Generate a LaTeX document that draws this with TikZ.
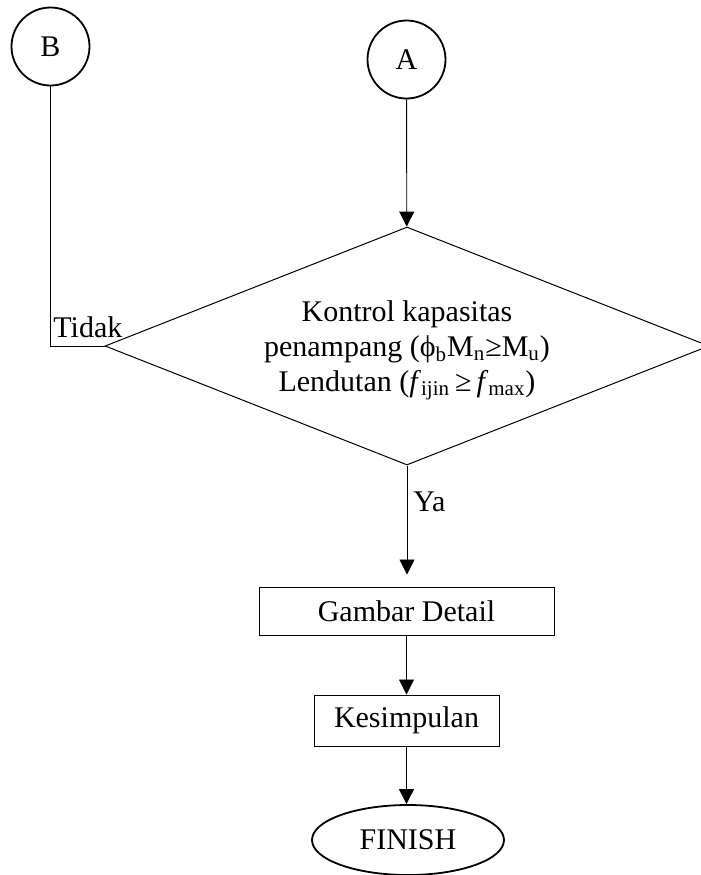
\documentclass[tikz,border=0pt]{standalone}
\usepackage{fontspec}
\setmainfont{Liberation Serif}
\usetikzlibrary{shapes.geometric,arrows.meta}

\begin{document}
\begin{tikzpicture}[x=0.5pt,y=-0.5pt,
	font=\fontsize{15}{17.5}\selectfont,
	konektor/.style={circle,draw,line width=0.9pt,minimum size=39pt,inner sep=0pt},
	proses/.style={rectangle,draw,line width=0.5pt,minimum height=24pt,inner sep=0pt},
	panah/.style={line width=0.45pt,-{Triangle[width=7.5pt,length=7.5pt]}},
	garis/.style={line width=0.45pt}]
	\useasboundingbox (0,0) rectangle (701,875);

	% penghubung
	\node[konektor] (B) at (50.5,46.5) {B};
	\node[konektor] (A) at (406.5,59.5) {A};

	% kontrol
	\node[diamond,draw,line width=0.5pt,aspect=2.54,inner sep=0pt,
		minimum width=302pt,minimum height=119pt,align=center,text depth=-4pt] (cek) at (407,346)
		{Kontrol kapasitas\\
		penampang (ϕ\textsubscript{b}M\textsubscript{n}≥M\textsubscript{u})\\
		Lendutan (\textit{f}\textsubscript{ijin}\,≥\,\textit{f}\textsubscript{max})};

	\node[proses,minimum width=147.5pt] (gambar) at (406.5,611) {Gambar Detail};
	\node[proses,minimum width=92.5pt,minimum height=25.5pt] (simpul) at (406.5,720.5) {Kesimpulan};
	\node[ellipse,draw,line width=0.9pt,minimum width=96pt,minimum height=35pt] (finish) at (408,840) {FINISH};

	\node[anchor=base west,inner sep=0pt] (tidak) at (53,337) {Tidak};
	\node[anchor=base west,inner sep=0pt] (ya) at (413,511) {Ya};

	\draw[panah] (A) -- (cek);
	\draw[garis] (B) |- (cek.west);
	\draw[panah,shorten >=6pt] (cek.south) -- (cek.south |- gambar.north);
	\draw[panah] (gambar.south) -- (gambar.south |- simpul.north);
	\draw[panah] (simpul.south) -- (simpul.south |- finish.north);
\end{tikzpicture}
\end{document}
